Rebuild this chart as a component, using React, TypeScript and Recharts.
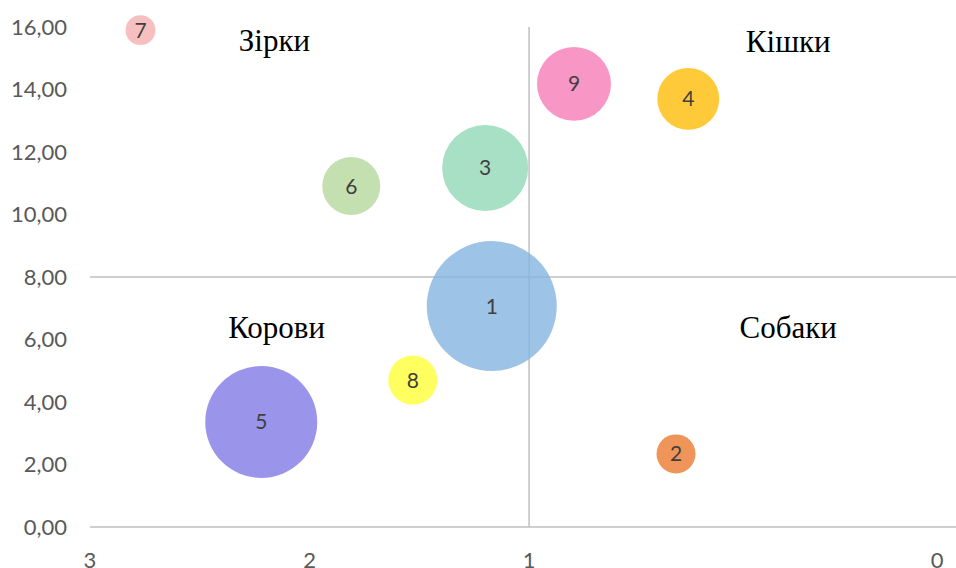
import { ScatterChart, Scatter, XAxis, YAxis, ZAxis, ReferenceLine, ReferenceDot, Cell, LabelList } from "recharts";

const ids = [1, 2, 3, 4, 5, 6, 7, 8, 9];
const share = [1.17, 0.64, 1.2, 0.61, 2.22, 1.81, 2.77, 1.53, 0.89];
const growth = [7.07, 2.34, 11.49, 13.7, 3.36, 10.91, 15.9, 4.7, 14.18];
const volume = [100, 9, 43.8, 22.7, 74.2, 19.9, 5.3, 14.2, 32.4];
const colors = ["#85b4e0", "#ec7a31", "#92d8b7", "#ffbd09", "#8179e5", "#b7d89c", "#f4b0b0", "#ffff38", "#f67cb8"];

const xTicks = [3, 2, 1, 0];
const yTicks = [0, 2, 4, 6, 8, 10, 12, 14, 16];

const quadrants = ["Зірки", "Кішки", "Корови", "Собаки"];
const quadrantX = [2.16, 0.365, 2.15, 0.365];
const quadrantY = [15.6, 15.55, 6.4, 6.4];

const data = ids.map((id, i) => ({ id, x: share[i], y: growth[i], z: volume[i] }));

// the segment between 1 and 0 is drawn wider than the others (k times)
function stretchedScale(k: number, dom: number[] = [0, 1], rng: number[] = [0, 1]) {
  const T = (v: number) => (v >= 1 ? k + (v - 1) : k * v);
  const Tinv = (t: number) => (t >= k ? t - k + 1 : t / k);
  const s: any = (v: number) => {
    const t0 = T(dom[0]);
    const t1 = T(dom[dom.length - 1]);
    return rng[0] + ((T(v) - t0) / (t1 - t0)) * (rng[rng.length - 1] - rng[0]);
  };
  s.domain = (d?: number[]) => (d === undefined ? dom.slice() : ((dom = d.map(Number)), s));
  s.range = (r?: number[]) => (r === undefined ? rng.slice() : ((rng = r.map(Number)), s));
  s.invert = (p: number) => {
    const t0 = T(dom[0]);
    const t1 = T(dom[dom.length - 1]);
    return Tinv(t0 + ((p - rng[0]) / (rng[rng.length - 1] - rng[0])) * (t1 - t0));
  };
  s.ticks = () => {
    const out: number[] = [];
    for (let v = Math.ceil(Math.min(...dom)); v <= Math.max(...dom); v++) out.push(v);
    return out;
  };
  s.tickFormat = () => (v: number) => String(v);
  s.nice = () => s;
  s.clamp = () => s;
  s.copy = () => stretchedScale(k, dom.slice(), rng.slice());
  return s;
}

const xScale = stretchedScale(1.859);
const fmt = (v: number) => v.toFixed(2).replace(".", ",");

export default function App() {
  return (
    <div style={{ position: "absolute", left: 0, top: 0, background: "#fff" }}>
      <ScatterChart width={956} height={568} margin={{ top: 27, right: 0, bottom: 0, left: 0 }} style={{ fontFamily: "Lato" }}>
        <XAxis
          type="number"
          dataKey="x"
          domain={[-0.046, 3]}
          reversed
          scale={xScale}
          ticks={xTicks}
          height={41}
          tickLine={false}
          tickSize={0}
          tickMargin={25}
          axisLine={{ stroke: "#bfbfbf", strokeWidth: 1.5 }}
          tick={{ fill: "#595959", fontSize: 22 }}
        />
        <YAxis
          type="number"
          dataKey="y"
          domain={[0, 16]}
          ticks={yTicks}
          width={90}
          axisLine={false}
          tickLine={false}
          tickSize={0}
          tickMargin={23}
          tickFormatter={fmt}
          tick={{ fill: "#595959", fontSize: 22 }}
        />
        <ZAxis type="number" dataKey="z" domain={[0, 100]} range={[0, 13273]} />
        <ReferenceLine y={8} stroke="#bfbfbf" strokeWidth={1.5} />
        <ReferenceLine x={1} stroke="#bfbfbf" strokeWidth={1.5} />
        <Scatter data={data} isAnimationActive={false} fillOpacity={0.8}>
          {data.map((d, i) => (
            <Cell key={d.id} fill={colors[i]} fillOpacity={0.8} />
          ))}
          <LabelList dataKey="id" position="center" fill="#3f3f3f" fontSize={21} fontFamily="Lato" />
        </Scatter>
        {quadrants.map((q, i) => (
          <ReferenceDot
            key={q}
            x={quadrantX[i]}
            y={quadrantY[i]}
            r={0}
            fill="none"
            stroke="none"
            label={{ value: q, position: "center", fill: "#000", fontSize: 31, fontFamily: "Liberation Serif" }}
          />
        ))}
      </ScatterChart>
    </div>
  );
}
